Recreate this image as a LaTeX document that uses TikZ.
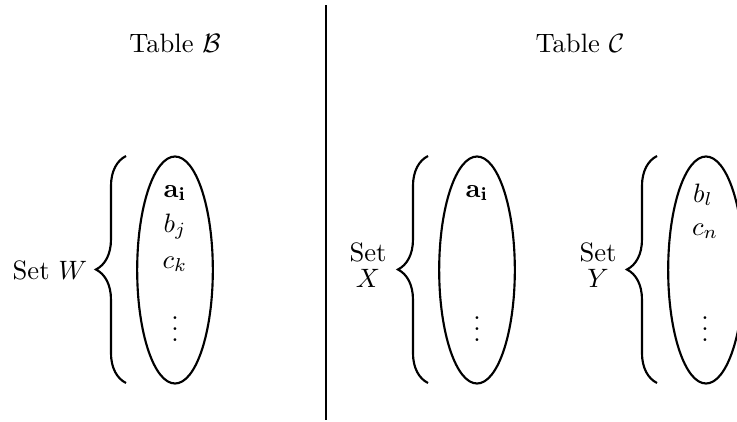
\documentclass[tikz,border=0pt]{standalone}
\usepackage{amsmath}
\usepackage{tikz}
\usetikzlibrary{positioning, shapes.geometric, decorations.pathreplacing}

\begin{document}
\begin{tikzpicture}[
  x=0.376pt, y=0.376pt,
  setell/.style={draw, thick, ellipse, minimum width=1cm, minimum height=3cm, inner sep=0pt},
  brc/.style={decorate, decoration={brace, amplitude=11.3pt}, thick},
  item/.style={anchor=base, inner sep=0pt},
  setlbl/.style={align=center}
]
  \useasboundingbox (0,0) rectangle (737,421);

  % divider and titles
  \coordinate (divtop) at (326,416);
  \coordinate (divbot) at (326,1);
  \draw[thick] (divtop) -- (divbot);
  \node (tabB) at (175,378) {Table $\mathcal{B}$};
  \node (tabC) at (580,378) {Table $\mathcal{C}$};

  % table B: set W
  \node[setell] (W) at (175,151) {};
  \node[item] (wa) at (175,224) {$\mathbf{a_i}$};
  \node[item] (wb) at (175,189) {$b_j$};
  \node[item] (wc) at (175,153) {$c_k$};
  \node[item] (wd) at (175,80) {$\vdots$};
  \coordinate (wbrb) at (126,38);
  \coordinate (wbrt) at (126,265);
  \draw[brc] (wbrb) -- (wbrt);
  \node[setlbl] (setW) at (50,151) {Set $W$};

  % table C: set X
  \node[setell] (X) at (477,151) {};
  \node[item] (xa) at (477,224) {$\mathbf{a_i}$};
  \node[item] (xd) at (477,80) {$\vdots$};
  \coordinate (xbrb) at (428,38);
  \coordinate (xbrt) at (428,265);
  \draw[brc] (xbrb) -- (xbrt);
  \node[setlbl] (setX) at (368,156) {Set\\[-2pt]$X$};

  % table C: set Y
  \node[setell] (Y) at (706,151) {};
  \node[item] (yb) at (703,219) {$b_l$};
  \node[item] (yc) at (705,186) {$c_n$};
  \node[item] (yd) at (705,80) {$\vdots$};
  \coordinate (ybrb) at (657,38);
  \coordinate (ybrt) at (657,265);
  \draw[brc] (ybrb) -- (ybrt);
  \node[setlbl] (setY) at (598,156) {Set\\[-2pt]$Y$};
\end{tikzpicture}
\end{document}
